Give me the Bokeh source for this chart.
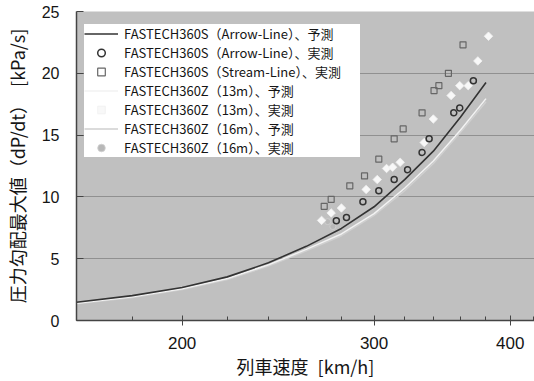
from bokeh.plotting import figure
from bokeh.models import Range1d, FixedTicker, NumeralTickFormatter, Legend, LegendItem
from bokeh.embed import file_html
from bokeh.resources import INLINE
import math

# ---- data ----
speed_pred = [160, 180, 200, 220, 240, 260, 280, 300, 320, 340, 360, 380]
arrow_pred = [1.48, 2.01, 2.67, 3.53, 4.67, 6.0, 7.45, 9.2, 11.4, 13.7, 16.45, 19.25]
z13_pred = [1.40, 1.92, 2.57, 3.40, 4.50, 5.75, 7.0, 8.65, 10.7, 12.9, 15.4, 17.95]
z16_pred = [1.36, 1.87, 2.50, 3.32, 4.40, 5.63, 6.86, 8.5, 10.5, 12.7, 15.2, 17.7]

arrow_meas_x = [277, 283, 293, 303, 313, 322, 332, 337, 355, 359.5, 370]
arrow_meas_y = [8.08, 8.34, 9.6, 10.5, 11.4, 12.2, 13.6, 14.7, 16.8, 17.2, 19.4]

stream_meas_x = [270, 274, 285, 294, 303, 313, 319, 332, 340.5, 344, 351, 362]
stream_meas_y = [9.24, 9.8, 10.9, 11.7, 13.05, 14.7, 15.5, 16.8, 18.6, 19.0, 20.0, 22.3]

z13_meas_x = [268.5, 274, 280, 295, 302, 308, 312, 317, 333.5, 340, 353, 359.5, 366, 373.5, 382]
z13_meas_y = [8.1, 8.7, 9.1, 10.6, 11.4, 12.3, 12.4, 12.8, 14.4, 16.3, 18.2, 19.0, 19.0, 21.0, 23.0]

z16_meas_x = [272, 275]
z16_meas_y = [8.0, 7.6]

x_ticks = [200, 300, 400]
x_minor = [160, 180, 220, 240, 260, 280, 320, 340, 360, 380, 420]
y_ticks = [0, 5, 10, 15, 20, 25]

labels = [
    "FASTECH360S（Arrow-Line）、予測",
    "FASTECH360S（Arrow-Line）、実測",
    "FASTECH360S（Stream-Line）、実測",
    "FASTECH360Z（13m）、予測",
    "FASTECH360Z（13m）、実測",
    "FASTECH360Z（16m）、予測",
    "FASTECH360Z（16m）、実測",
]

CJK = "Noto Sans CJK JP"
NUM = "Liberation Sans"
TXT = "#151515"

p = figure(width=534, height=381, x_axis_type="log",
           x_range=Range1d(160, 421), y_range=Range1d(0, 25),
           output_backend="svg", toolbar_location=None,
           min_border_left=73, min_border_right=0,
           min_border_top=11, min_border_bottom=58)

p.background_fill_color = "#c0c0c0"
p.border_fill_color = "white"
p.outline_line_color = None

# grid
p.xgrid.visible = False
p.ygrid.ticker = FixedTicker(ticks=[5, 10, 15, 20, 25])
p.ygrid.grid_line_color = "#909090"
p.ygrid.grid_line_width = 1

# x axis
xa = p.xaxis[0]
xa.ticker = FixedTicker(ticks=x_ticks, minor_ticks=x_minor)
xa.formatter = NumeralTickFormatter(format="0")
xa.axis_line_color = "#444444"
xa.axis_line_width = 1.5
xa.major_tick_line_color = "#444444"
xa.major_tick_in = 5
xa.major_tick_out = 5
xa.minor_tick_line_color = "#444444"
xa.minor_tick_in = 4
xa.minor_tick_out = 0
xa.major_label_text_font = NUM
xa.major_label_text_font_size = "17px"
xa.major_label_text_color = TXT
xa.major_label_standoff = 11
xa.axis_label = "列車速度\u2002[km/h]"
xa.axis_label_text_font = CJK
xa.axis_label_text_font_size = "18px"
xa.axis_label_text_font_style = "normal"
xa.axis_label_text_color = TXT
xa.axis_label_standoff = 1

# y axis
ya = p.yaxis[0]
ya.ticker = FixedTicker(ticks=y_ticks)
ya.axis_line_color = "#444444"
ya.axis_line_width = 1.5
ya.major_tick_line_color = "#444444"
ya.major_tick_in = 7
ya.major_tick_out = 0
ya.minor_tick_line_color = None
ya.major_label_text_font = NUM
ya.major_label_text_font_size = "16px"
ya.major_label_text_color = TXT
ya.major_label_standoff = 17
ya.axis_label = "圧力勾配最大値（dP/dt）\u2002[kPa/s]"
ya.axis_label_text_font = CJK
ya.axis_label_text_font_size = "18px"
ya.axis_label_text_font_style = "normal"
ya.axis_label_text_color = TXT
ya.axis_label_standoff = 9

# predicted lines
r16 = p.line(speed_pred, z16_pred, line_color="#cfcfcf", line_width=1.5)
r13 = p.line(speed_pred, z13_pred, line_color="#f2f2f2", line_width=1.5)
rA = p.line(speed_pred, arrow_pred, line_color="#333333", line_width=1.6)

# measured points
rS = p.scatter(stream_meas_x, stream_meas_y, marker="square", size=6,
               fill_color=None, line_color="#666666", line_width=1.2)
rZ16 = p.scatter(z16_meas_x, z16_meas_y, marker="circle", size=6,
                 fill_color="#b8b8b8", line_color="#d0d0d0", line_width=0.8)
rZ13 = p.scatter(z13_meas_x, z13_meas_y, marker="square", angle=math.pi / 4, size=6,
                 fill_color="#f8f8f8", line_color="#f0f0f0", line_width=0.8)
rC = p.scatter(arrow_meas_x, arrow_meas_y, marker="circle", size=6,
               fill_color=None, line_color="#333333", line_width=1.5)

legend = Legend(items=[
    LegendItem(label=labels[0], renderers=[rA]),
    LegendItem(label=labels[1], renderers=[rC]),
    LegendItem(label=labels[2], renderers=[rS]),
    LegendItem(label=labels[3], renderers=[r13]),
    LegendItem(label=labels[4], renderers=[rZ13]),
    LegendItem(label=labels[5], renderers=[r16]),
    LegendItem(label=labels[6], renderers=[rZ16]),
], location=(8, 163))
legend.label_text_font = CJK
legend.label_text_font_size = "13px"
legend.label_text_color = TXT
legend.label_height = 19
legend.label_width = 236
legend.glyph_height = 19
legend.glyph_width = 34
legend.label_standoff = 6
legend.spacing = 0
legend.padding = 5
legend.margin = 0
legend.border_line_color = None
legend.background_fill_color = "white"
legend.background_fill_alpha = 1.0
p.add_layout(legend, "center")

open("out.html", "w").write(file_html(p, INLINE))
